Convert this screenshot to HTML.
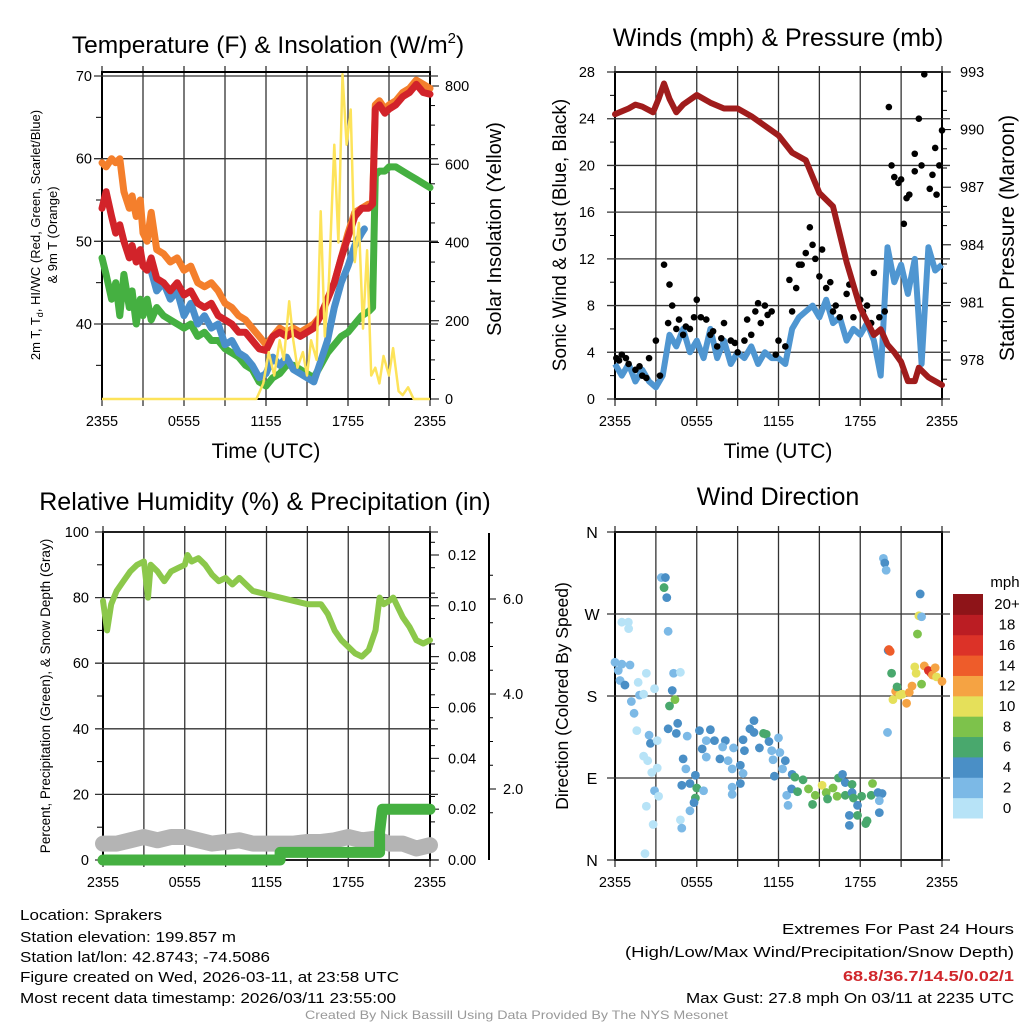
<!DOCTYPE html>
<html><head><meta charset="utf-8"><style>
html,body{margin:0;padding:0;background:#fff;}
svg{display:block;font-family:"Liberation Sans",sans-serif;}
</style></head><body>
<svg id="s" width="1024" height="1024" viewBox="0 0 1024 1024">
<rect width="1024" height="1024" fill="#fff"/>
<!-- Titles -->
<text x="268" y="53" font-size="24.5" text-anchor="middle">Temperature (F) &amp; Insolation (W/m<tspan font-size="15" dy="-10">2</tspan><tspan dy="10">)</tspan></text>
<text x="778" y="46" font-size="25" text-anchor="middle">Winds (mph) &amp; Pressure (mb)</text>
<text x="265" y="510" font-size="25" text-anchor="middle">Relative Humidity (%) &amp; Precipitation (in)</text>
<text x="778" y="505" font-size="25" text-anchor="middle">Wind Direction</text>
<!-- axis titles -->
<text x="266" y="458" font-size="21" text-anchor="middle">Time (UTC)</text>
<text x="778" y="458" font-size="21" text-anchor="middle">Time (UTC)</text>
<text transform="translate(40,235) rotate(-90)" font-size="13" text-anchor="middle">2m T, T<tspan font-size="9" dy="3">d</tspan><tspan dy="-3">, HI/WC (Red, Green, Scarlet/Blue)</tspan></text>
<text transform="translate(57,235) rotate(-90)" font-size="13" text-anchor="middle">&amp; 9m T (Orange)</text>
<text transform="translate(501,229) rotate(-90)" font-size="20" text-anchor="middle">Solar Insolation (Yellow)</text>
<text transform="translate(566,235) rotate(-90)" font-size="19" text-anchor="middle">Sonic Wind &amp; Gust (Blue, Black)</text>
<text transform="translate(1014,238) rotate(-90)" font-size="21" text-anchor="middle">Station Pressure (Maroon)</text>
<text transform="translate(50,696) rotate(-90)" font-size="13.5" text-anchor="middle">Percent, Precipitation (Green), &amp; Snow Depth (Gray)</text>
<text transform="translate(568,696) rotate(-90)" font-size="17.5" text-anchor="middle">Direction (Colored By Speed)</text>
<!-- footer -->
<g font-size="15">
<text x="20" y="920" textLength="142" lengthAdjust="spacingAndGlyphs">Location: Sprakers</text>
<text x="20" y="942" textLength="216" lengthAdjust="spacingAndGlyphs">Station elevation: 199.857 m</text>
<text x="20" y="962" textLength="250" lengthAdjust="spacingAndGlyphs">Station lat/lon: 42.8743; -74.5086</text>
<text x="20" y="982" textLength="379" lengthAdjust="spacingAndGlyphs">Figure created on Wed, 2026-03-11, at 23:58 UTC</text>
<text x="20" y="1003" textLength="376" lengthAdjust="spacingAndGlyphs">Most recent data timestamp: 2026/03/11 23:55:00</text>
</g>
<g font-size="15">
<text x="782" y="934" textLength="232" lengthAdjust="spacingAndGlyphs">Extremes For Past 24 Hours</text>
<text x="625" y="957" textLength="389" lengthAdjust="spacingAndGlyphs">(High/Low/Max Wind/Precipitation/Snow Depth)</text>
<text x="843" y="981" textLength="171" lengthAdjust="spacingAndGlyphs" font-weight="bold" fill="#d0262b">68.8/36.7/14.5/0.02/1</text>
<text x="686" y="1003" textLength="328" lengthAdjust="spacingAndGlyphs">Max Gust: 27.8 mph On 03/11 at 2235 UTC</text>
</g>
<text x="305" y="1019" font-size="12" fill="#999" textLength="423" lengthAdjust="spacingAndGlyphs">Created By Nick Bassill Using Data Provided By The NYS Mesonet</text>
<g id="plots"></g>
</svg>
<script>
// ---------- data ----------
const timeLabels = ["2355","0555","1155","1755","2355"];
const tHours = [0,0.3,0.7,1,1.3,1.6,2,2.2,2.5,2.8,3,3.3,3.6,4,4.5,5,5.5,6,6.5,7,7.5,8,8.5,9,9.5,10,10.5,11,11.5,12,12.5,13,13.5,14,14.5,15,15.5,16,16.5,17,17.5,18,18.5,19,19.5,19.8,20,20.3,20.7,21,21.5,22,22.5,23,23.5,24];
const orangeT = [59.5,59,60,59.5,60,56,54,55.5,53,55,51,50,53.5,49,48.5,47.5,48,46.5,47,45,44.5,45,44,42.5,42,41,40.5,39.5,38.5,37.5,38.5,39.5,39,39.5,39,39.5,40,41,43,45,48,51,53.5,54,54.5,54.5,66.5,67,66,66.5,67,68,68.5,69.5,69,68.5];
const redT = [54,56,53,51,52,50,48,49.5,47.5,49,47,46.5,48,45.5,45,44,45,43.5,44,42.5,42,42.5,41,40.5,40,39,39,38,37,36.8,38.5,39,38.5,39,38.5,39,39.5,41,43,45,48,50.5,53,54,54,54.5,66,66.5,65.5,66,66.5,67.5,68,69,68,67.8];
const greenT = [48,46,43,45,41,46,42,44,40,43,41,43,40.5,42,41,40.5,40,39.5,40,38.5,39,38,38,37,36.5,36,35,34.5,33,32.5,33.5,34,35,35,34.5,34,33.5,35,36.5,37.5,38.5,39,40,41,41.5,42,58,58.5,58.5,59,59,58.5,58,57.5,57,56.5];
const blueHours = [3.5,4,4.5,5,5.5,6,6.5,7,7.5,8,8.5,9,9.5,10,10.5,11,11.5,12,12.5,13,13.5,14,14.5,15,15.5,16,16.5,17,17.5,18,18.5,19,19.2];
const blueT = [47,44,45,43,44,41,42.5,40,41,39.5,40,37.5,38,36.5,36,35,33.5,34,36,35,36,34.5,34,33.5,33,35.5,38,42,45,47,49.5,51,51.5];
const solarHours = [0,11.3,11.8,12.2,12.6,13,13.3,13.7,14,14.3,14.7,15,15.3,15.7,16,16.3,16.6,17,17.3,17.6,17.9,18.2,18.5,18.8,19.1,19.4,19.7,20,20.3,20.6,21,21.3,21.7,22,22.4,22.8,23,24];
const solarW = [0,0,40,120,60,150,100,250,150,80,120,60,150,100,480,160,300,650,400,830,650,740,350,450,180,380,60,80,40,110,60,130,20,10,30,0,0,0];
const tempTicks = [40,50,60,70];
const solarTicks = [0,200,400,600,800];

const sonicWind = [3,2,3,1.5,2.5,1.5,1,2,5.5,4.5,6,4,5,3.5,6,3.5,5,3,4,3.5,4.5,3,4,3.5,3.5,3,6,7,7.5,8,7,8.5,6.5,7,5,6,5.5,6.5,5,2,13,10,11.5,9,12,3,13,11,11.5];
const gustHours = [0.1,0.5,1,1.5,2,2.5,3,3.3,3.6,3.9,4.2,4.5,5,5.5,6,6.3,6.7,7,7.5,8,8.5,9,9.5,10,10.3,10.7,11,11.5,12,12.5,13,13.3,13.7,14,14.3,14.7,15,15.5,16,16.5,17,17.5,18,18.5,19,19.4,19.8,20.1,20.5,20.8,21.2,21.6,22,22.3,22.5,22.7,23.1,23.5,23.8,24,0.3,0.8,1.8,2.3,4.0,4.7,5.2,5.8,7.2,7.8,8.8,9.7,10.5,11.2,11.8,12.8,13.5,14.5,15.2,15.8,16.2,17.2,18.2,18.8,20.3,21.0,21.4,22.0,23.3,23.6];
const gustMph = [3.5,3.8,3,2.5,2,3.5,5,2,11.5,6.5,8,6,5.5,6,8.5,7,6.8,5.5,4.5,6.5,5,4,5,5.5,7.5,6.5,8,7.5,5,4.5,7.5,9.5,11.5,12.5,14.7,12,10.5,9.5,7.5,7,9,7,8.5,8,10.8,7,7.5,25,19,18.5,15,17.5,21,24,20,27.8,18,21.5,20,23,3.3,3.5,2.8,1.8,9.8,6.8,6.2,7.0,5.8,5.2,4.8,6.8,8.2,7.2,3.8,10.2,11.5,13.2,12.8,10.0,8.0,9.8,7.5,6.5,20.0,18.8,17.2,19.5,19.2,17.5];
const pressHours = [0,1,1.5,2,2.8,3.2,3.6,4,4.5,5,6,7,8,9,10,11,12,13,14,15,16,17,18,19,19.5,20,20.5,21,21.5,22,22.3,23,24];
const pressMb = [990.8,991.1,991.3,991.2,990.9,991.6,992.4,991.6,990.9,991.3,991.8,991.4,991.1,991.1,990.7,990.2,989.7,988.8,988.4,986.7,986.0,983.1,980.7,979.3,979.6,978.8,978.4,977.9,976.9,976.9,977.6,977.1,976.7];
const windTicks = [0,4,8,12,16,20,24,28];
const pressTicks = [978,981,984,987,990,993];

const rhHours = [0,0.3,0.6,1,1.5,2,2.5,3,3.3,3.5,4,4.5,5,5.5,6,6.2,6.5,7,7.5,8,8.5,9,9.5,10,10.5,11,12,13,14,15,16,16.5,17,17.5,18,18.5,19,19.5,20,20.3,20.6,21,21.3,22,22.5,23,23.5,24];
const rhPct = [79,70,78,82,85,88,90,91,80,90,88,85,88,89,90,93,91,92,90,87,85,86,84,86,84,82,81,80,79,78,78,75,70,67,65,63,62,64,70,80,78,79,80,74,71,67,66,67];
const snowHours = [0,1,2,3,4,5,6,7,8,9,10,11,12,13,14,15,16,17,18,19,20,21,22,23,24];
const snowPct = [5,5,6,7,6,7,7,6,5,5.5,6,5,5,5,5,5.5,5.5,6,7,6,6.5,5,5,3.5,4.5];
const precipHours = [0,13,13,20.3,20.3,20.5,24];
const precipIn = [0,0,0.003,0.003,0.011,0.02,0.02];
const rhTicks = [0,20,40,60,80,100];
const precipTicks = [0,0.02,0.04,0.06,0.08,0.10,0.12];
const snowTicks = [2.0,4.0,6.0];

const dirHours = [0,0.24,0.5,0.37,0.73,1.1,0.98,0.5,1.0,1.7,1.8,1.2,1.4,2.3,2.1,1.6,2.5,2.6,2.9,3.1,2.1,2.4,2.7,3.1,2.9,3.2,2.3,2.8,2.2,3.4,3.7,3.6,3.8,3.9,4.3,4.8,4.2,4.4,4.0,3.9,4.6,4.5,5.3,5.0,5.2,4.9,5.5,5.9,6.0,5.9,5.8,5.5,4.8,4.9,6.5,6.2,6.4,7.0,6.7,7.3,6.7,7.7,8.1,7.9,8.3,8.7,8.6,9.2,9.4,9.2,8.6,8.6,9.4,9.5,9.9,10.2,10.2,10.6,10.9,11.1,11.3,11.5,11.6,12.0,12.1,12.5,12.3,11.7,12.6,12.7,13.0,13.2,12.96,13.4,13.8,14.2,14.5,14.7,15.2,15.5,16.0,16.3,15.6,16.4,16.7,16.9,17.4,16.9,17.4,17.5,18.1,17.8,17.2,17.2,17.8,18.5,18.4,18.9,18.8,19.3,19.6,19.4,19.4,19.7,19.8,19.9,20.0,20.05,20.1,20.2,20.3,20.4,20.6,20.7,20.9,21.1,21.4,21.6,21.8,22.0,22.1,22.2,22.3,22.4,22.5,22.5,22.7,23.0,23.2,23.3,23.6,23.5,24];
const dirDeg = [217,208,215,197,192,214,261,261,254,195,181,174,161,205,182,142,137,128,188,131,114,109,96,101,76,70,59,39,7,310,310,299,288,251,205,206,186,176,169,144,150,139,136,111,100,82,84,93,79,68,63,54,44,35,76,142,122,143,131,131,113,111,131,124,109,123,100,104,95,84,80,72,132,120,144,153,140,123,139,138,130,120,110,134,118,109,100,92,71,60,94,91,78,75,88,78,61,71,82,74,79,70,67,90,94,85,83,71,74,68,70,60,49,38,49,43,40,84,71,74,73,65,52,331,326,318,140,230,231,229,205,176,185,190,181,182,172,184,191,212,205,248,268,292,267,193,213,208,205,203,201,211,196];
const dirSpeed = [2,2,2,2,4,2,1,1,1,1,2,2,2,1,1,1,2,4,0,0,0,0,0,0,2,1,1,0,0,2,4,6,4,2,2,1,4,8,6,4,4,4,2,4,2,4,4,4,6,6,4,2,0,2,2,4,4,4,2,4,2,4,4,2,2,2,2,4,2,4,2,2,4,4,4,4,4,4,6,6,4,2,2,2,2,4,2,4,2,2,4,6,4,6,6,8,6,8,10,8,8,8,6,6,4,4,6,6,4,6,6,4,4,4,6,6,6,8,6,4,4,2,4,2,4,2,2,4,14,14,6,10,12,6,10,10,12,12,12,10,10,8,10,4,2,8,12,16,16,12,10,12,12];
const dirTickLabels = ["N","E","S","W","N"];
const speedLabels = ["0","2","4","6","8","10","12","14","16","18","20+"];
const speedColors = ["#b7e3f7","#7cb9e6","#4a8fc6","#49a86d","#7dc24b","#e5e05a","#f5a343","#ee5c2a","#dc3228","#bb1d23","#8e1418"];

// ---------- helpers ----------
const NS="http://www.w3.org/2000/svg";
const root=document.getElementById('plots');
function mk(tag,attrs,parent){const e=document.createElementNS(NS,tag);for(const k in attrs)e.setAttribute(k,attrs[k]);(parent||root).appendChild(e);return e;}
function lin(d0,d1,r0,r1){return v=>r0+(v-d0)*(r1-r0)/(d1-d0);}
function pathD(xs,ys,fx,fy){let d='';const n=Math.min(xs.length,ys.length);for(let i=0;i<n;i++)d+=(i?'L':'M')+fx(xs[i]).toFixed(1)+','+fy(ys[i]).toFixed(1);return d;}
function frame(x0,x1,y0,y1,name){
  for(let h=0;h<=24;h+=3){const x=lin(0,24,x0,x1)(h);
    const g=mk('line',{x1:x,x2:x,y1:y0-6,y2:y1+7,stroke:'#333','stroke-width':1.3});
    
    }
  for(let i=0;i<timeLabels.length;i++){const x=lin(0,24,x0,x1)(i*6);
    const t=mk('text',{x:x,y:y1+27,'font-size':14.5,'text-anchor':'middle'});t.textContent=timeLabels[i];
    
    }
  const b=mk('rect',{x:x0,y:y0,width:x1-x0,height:y1-y0,fill:'none',stroke:'#000','stroke-width':2});
  
  
}
function hgrid(x0,x1,y,name){const g=mk('line',{x1:x0-8,x2:x1+8,y1:y,y2:y,stroke:'#333','stroke-width':1.3});
  
  }
function label(x,y,txt,anchor,name,size){const t=mk('text',{x:x,y:y+5,'font-size':size||14.5,'text-anchor':anchor});t.textContent=txt;
  
  return t;}
function tick(x1,x2,y,name){const t=mk('line',{x1:x1,x2:x2,y1:y,y2:y,stroke:'#000','stroke-width':1});
  
  }

// ---------- panel 1: temperature ----------
(function(){
  const x0=102,x1=430,y0=72,y1=399;
  const fx=lin(0,24,x0,x1), fy=lin(70,40,76,324), fs=lin(0,800,399,86);
  frame(x0,x1,y0,y1,'temp');
  tempTicks.forEach(v=>{hgrid(x0,x1,fy(v),'temp');label(x0-10,fy(v),String(v),'end','temp-y-tick-label');});
  [35,45,55,65].forEach(v=>tick(x0-6,x0,fy(v),'temp-minor-tick'));
  solarTicks.forEach(v=>{tick(x1,x1+9,fs(v),'solar-tick');label(x1+15,fs(v),String(v),'start','solar-y-tick-label');});
  for(let v=50;v<800;v+=50){if(v%200)tick(x1,x1+5,fs(v),'solar-minor-tick');}
  const series=[[tHours,orangeT,'#f47f2c',7,'orange-9m-temp-line'],[tHours,greenT,'#45b041',7,'green-hiwc-line'],[blueHours,blueT,'#4a8fcb',7,'blue-dewpoint-line'],[tHours,redT,'#d2232a',7,'red-2m-temp-line']];
  series.forEach(s=>{const p=mk('path',{d:pathD(s[0],s[1],fx,fy),fill:'none',stroke:s[2],'stroke-width':s[3],'stroke-linejoin':'round','stroke-linecap':'round'});
    
    });
  const p=mk('path',{d:pathD(solarHours,solarW,fx,fs),fill:'none',stroke:'#fde35a','stroke-width':2.5,'stroke-linejoin':'round'});
  
  
})();

// ---------- panel 2: winds ----------
(function(){
  const x0=615,x1=942,y0=72,y1=399;
  const fx=lin(0,24,x0,x1), fy=lin(0,28,399,72), fp=lin(993,978,72,360);
  frame(x0,x1,y0,y1,'wind');
  windTicks.forEach(v=>{hgrid(x0,x1,fy(v),'wind');label(x0-20,fy(v),String(v),'end','wind-y-tick-label');});
  for(let v=2;v<28;v+=4)tick(x0-5,x0,fy(v),'wind-minor-tick');
  pressTicks.forEach(v=>{tick(x1,x1+9,fp(v),'pressure-tick');label(x1+18,fp(v),String(v),'start','pressure-y-tick-label');});
  for(let v=977;v<993;v++){if((v-978)%3)tick(x1,x1+5,fp(v),'pressure-minor-tick');}
  const hrs=sonicWind.map((v,i)=>i*0.5);
  const sw=mk('path',{d:pathD(hrs,sonicWind,fx,fy),fill:'none',stroke:'#4f96d1','stroke-width':6,'stroke-linejoin':'round'});
  
  
  const n=Math.min(gustHours.length,gustMph.length);
  for(let i=0;i<n;i++){const c=mk('circle',{cx:fx(gustHours[i]),cy:fy(gustMph[i]),r:3.3,fill:'#000'});
    
    }
  const pr=mk('path',{d:pathD(pressHours,pressMb,fx,fp),fill:'none',stroke:'#a01c1c','stroke-width':6,'stroke-linejoin':'round','stroke-linecap':'round'});
  
  
})();

// ---------- panel 3: humidity ----------
(function(){
  const x0=103,x1=430,y0=532,y1=860;
  const fx=lin(0,24,x0,x1), fy=lin(0,100,860,532), fpr=lin(0,0.12,860,555), fsn=lin(0,6,884,599);
  frame(x0,x1,y0,y1,'humidity');
  rhTicks.forEach(v=>{hgrid(x0,x1,fy(v),'humidity');label(x0-14,fy(v),String(v),'end','humidity-y-tick-label');});
  for(let v=10;v<100;v+=20)tick(x0-6,x0,fy(v),'humidity-minor-tick');
  precipTicks.forEach(v=>{tick(x1,x1+9,fpr(v),'precip-tick');label(x1+18,fpr(v),v.toFixed(2),'start','precip-y-tick-label');});
  for(let v=0.005;v<0.125;v+=0.01)tick(x1,x1+5,fpr(v),'precip-minor-tick');
  const ax=mk('line',{x1:489,x2:489,y1:533,y2:860,stroke:'#000','stroke-width':2});
  
  
  snowTicks.forEach(v=>{tick(489,496,fsn(v),'snow-tick');label(503,fsn(v),v.toFixed(1),'start','snow-y-tick-label');});
  [1.5,2.5,3,3.5,4.5,5,5.5,6.5].forEach(v=>tick(489,493,fsn(v),'snow-minor-tick'));
  const sn=mk('path',{d:pathD(snowHours,snowPct,fx,fy),fill:'none',stroke:'#b4b4b4','stroke-width':16,'stroke-linejoin':'round','stroke-linecap':'round'});
  
  
  const pp=mk('path',{d:pathD(precipHours,precipIn,fx,fpr),fill:'none',stroke:'#45b041','stroke-width':11,'stroke-linejoin':'round','stroke-linecap':'round'});
  
  
  const rh=mk('path',{d:pathD(rhHours,rhPct,fx,fy),fill:'none',stroke:'#8cc84b','stroke-width':6,'stroke-linejoin':'round','stroke-linecap':'round'});
  
  
})();

// ---------- panel 4: wind direction ----------
(function(){
  const x0=615,x1=942,y0=532,y1=860;
  const fx=lin(0,24,x0,x1), fy=lin(0,360,860,532);
  frame(x0,x1,y0,y1,'direction');
  dirTickLabels.forEach((s,i)=>{const y=fy(i*90);hgrid(x0,x1,y,'direction');label(592,y+1,s,'middle','direction-tick-label',16);});
  const n=Math.min(dirHours.length,dirDeg.length,dirSpeed.length);
  for(let i=0;i<n;i++){const ci=Math.min(10,Math.floor(dirSpeed[i]/2));
    const c=mk('circle',{cx:fx(dirHours[i]),cy:fy(dirDeg[i]),r:4.4,fill:speedColors[ci]});
    
    }
  const by0=594,bh=224/11;
  for(let i=0;i<11;i++){const y=by0+(10-i)*bh;
    const r=mk('rect',{x:953,y:y,width:30,height:bh+0.5,fill:speedColors[i]});
    
    
    label(1007,y+bh/2,speedLabels[i],'middle','colorbar-label',15);}
  label(1005,582,'mph','middle','colorbar-unit',15);
})();
</script>
</body></html>
